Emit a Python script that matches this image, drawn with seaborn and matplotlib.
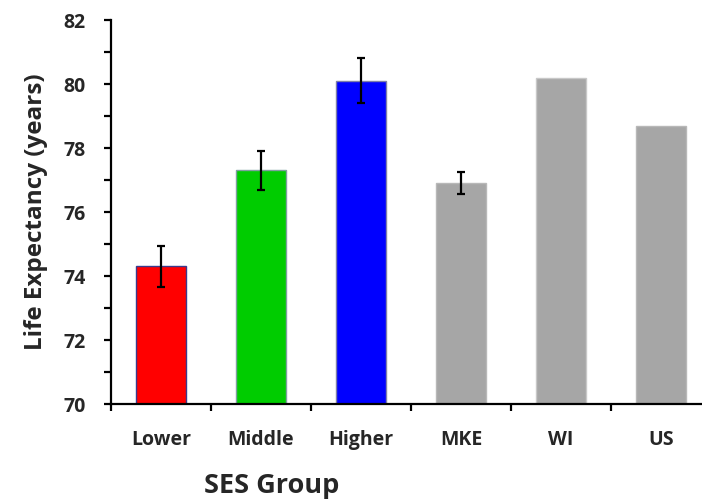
import numpy as np
import pandas as pd
import matplotlib
matplotlib.use("Agg")
import matplotlib.pyplot as plt
from matplotlib.ticker import MultipleLocator, FixedLocator
import seaborn as sns

# data
groups = ["Lower", "Middle", "Higher", "MKE", "WI", "US"]
life_exp = [74.3, 77.3, 80.1, 76.9, 80.2, 78.7]
errors = [0.65, 0.6, 0.7, 0.35, np.nan, np.nan]
bar_colors = ["#FF0000", "#00CC00", "#0000FF", "#A6A6A6", "#A6A6A6", "#A6A6A6"]
edge_colors = ["#3A3A8C", "#7F9F9F", "#7F7FA8", "#B8B8B8", "#C8C8C8", "#B8B8B8"]

df = pd.DataFrame({"group": groups, "life": life_exp, "err": errors})

sns.set_style("white")
plt.rcParams["font.family"] = ["Open Sans", "DejaVu Sans"]
plt.rcParams["font.weight"] = "bold"

fig = plt.figure(figsize=(7.02, 5.0), dpi=100)
ax = fig.add_axes([111 / 702, 96 / 500, 600 / 702, 384 / 500])

sns.barplot(data=df, x="group", y="life", hue="group", palette=bar_colors,
            legend=False, width=0.5, ax=ax, linewidth=1, saturation=1)
for patch, ec in zip(ax.patches, edge_colors):
    patch.set_edgecolor(ec)

# error bars where available
has_err = df["err"].notna()
xpos = np.arange(len(groups))
ax.errorbar(xpos[has_err], df.loc[has_err, "life"], yerr=df.loc[has_err, "err"],
            fmt="none", ecolor="black", elinewidth=1.6, capsize=3, capthick=1.6)

ax.set_ylim(70, 82)
ax.set_xlim(-0.5, 5.5)
ax.yaxis.set_major_locator(MultipleLocator(2))
ax.yaxis.set_minor_locator(MultipleLocator(1))
ax.xaxis.set_minor_locator(FixedLocator(np.arange(-0.5, 6, 1)))

for s in ["top", "right"]:
    ax.spines[s].set_visible(False)
for s in ["left", "bottom"]:
    ax.spines[s].set_color("black")
    ax.spines[s].set_linewidth(1.6)

ax.tick_params(axis="y", which="both", direction="out", length=5, width=1.6,
               color="black", left=True)
ax.tick_params(axis="y", which="major", labelsize=14, pad=13)
ax.tick_params(axis="x", which="major", length=0, labelsize=14, pad=19)
ax.tick_params(axis="x", which="minor", direction="out", length=5, width=1.6,
               color="black", bottom=True)
for lbl in ax.get_xticklabels() + ax.get_yticklabels():
    lbl.set_fontweight("bold")

ax.set_ylabel("Life Expectancy (years)", fontsize=17.5, fontweight="bold", labelpad=11)
ax.set_xlabel("SES Group", fontsize=19.5, fontweight="bold", va="top")
ax.xaxis.set_label_coords(0.268, -0.18)

fig.savefig("out.png", dpi=100)
